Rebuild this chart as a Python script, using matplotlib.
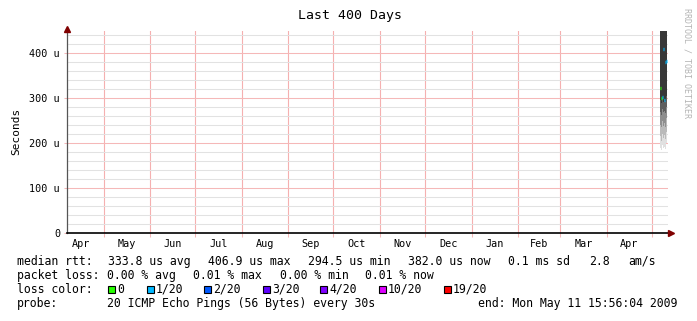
import datetime as dt

import matplotlib
matplotlib.use("Agg")
import matplotlib.dates as mdates
from matplotlib import pyplot as plt
from matplotlib.patches import Rectangle

W, H = 697, 321
MONO = "DejaVu Sans Mono"

# ---- data ----
end_time = dt.datetime(2009, 5, 11, 15, 56, 4)
span_days = 400

# sample times of the few days that hold data
sample_times = ["2009-05-06 06:00", "2009-05-06 22:00", "2009-05-07 14:00",
                "2009-05-08 06:00", "2009-05-08 22:00", "2009-05-09 14:00",
                "2009-05-10 06:00"]
sample_end = "2009-05-10 22:00"

# median rtt in microseconds
median_us = [322, 300, 302, 408, 296, 380, 382]
# lost pings out of 20
loss_count = [0, 0, 1, 1, 1, 1, 1]

# smoke: lower edge of each band (outer -> inner), microseconds
smoke_lo = [
    [190, 215, 240, 270, 295],
    [185, 205, 235, 262, 290],
    [195, 220, 250, 275, 300],
    [188, 212, 238, 268, 292],
    [192, 218, 245, 272, 298],
    [186, 210, 236, 266, 294],
    [200, 225, 255, 280, 305],
]
# upper edge of the smoke (max ping), microseconds
smoke_hi = [495, 470, 480, 520, 470, 485, 500]
smoke_shades = ["#e0e0e0", "#bababa", "#8e8e8e", "#5e5e5e", "#383838"]

loss_levels = [0, 1, 2, 3, 4, 10, 19]
loss_labels = ["0", "1/20", "2/20", "3/20", "4/20", "10/20", "19/20"]
loss_colors = ["#26ff00", "#00b8ff", "#0059ff", "#5e00ff", "#7e00ff", "#dd00ff", "#ff0000"]

y_ticks = [0, 100, 200, 300, 400]
y_tick_labels = ["0", "100 u", "200 u", "300 u", "400 u"]


def loss_color(n):
    col = loss_colors[0]
    for lvl, c in zip(loss_levels, loss_colors):
        if n >= lvl:
            col = c
    return col


def next_month(d):
    if d.month == 12:
        return dt.datetime(d.year + 1, 1, 1)
    return dt.datetime(d.year, d.month + 1, 1)


start_time = end_time - dt.timedelta(days=span_days)
x0, x1 = mdates.date2num(start_time), mdates.date2num(end_time)

fig = plt.figure(figsize=(W / 100, H / 100), dpi=100)
fig.patch.set_facecolor("white")
ax = fig.add_axes([67 / W, (H - 233) / H, 601 / W, 202.5 / H])
ax.set_facecolor("white")

t = [mdates.date2num(dt.datetime.fromisoformat(s)) for s in sample_times]
t_edges = t + [mdates.date2num(dt.datetime.fromisoformat(sample_end))]

# smoke, outer (light) bands first
for k, shade in enumerate(smoke_shades):
    lo = [row[k] for row in smoke_lo]
    ax.fill_between(t_edges, lo + [lo[-1]], smoke_hi + [smoke_hi[-1]],
                    step="post", color=shade, lw=0, zorder=3)

# median markers coloured by loss
for i, med in enumerate(median_us):
    ax.hlines(med, t_edges[i], t_edges[i + 1], color=loss_color(loss_count[i]),
              lw=2.4, zorder=4)

# grid
ax.set_yticks(y_ticks)
ax.set_yticklabels(y_tick_labels)
ax.set_yticks(range(0, 450, 20), minor=True)
ax.yaxis.grid(True, which="minor", color="#e2e2e2", lw=0.75)
ax.yaxis.grid(True, which="major", color="#f5b8b8", lw=0.75)

# month lines at month starts, labels at mid month
m = dt.datetime(start_time.year, start_time.month, 1)
month_lines, month_mids, month_names = [], [], []
while m <= end_time:
    nxt = next_month(m)
    a, b = mdates.date2num(m), mdates.date2num(nxt)
    if a >= x0:
        month_lines.append(a)
    mid = (a + b) / 2
    if x0 <= mid <= x1:
        month_mids.append(mid)
        month_names.append(m.strftime("%b"))
    m = nxt

ax.set_xticks(month_lines)
ax.set_xticklabels([])
ax.set_xticks(month_mids, minor=True)
ax.set_xticklabels(month_names, minor=True)
ax.xaxis.remove_overlapping_locs = False
ax.xaxis.grid(True, which="major", color="#f5b0b0", lw=0.8)
ax.set_axisbelow(True)

ax.set_xlim(x0, x1)
ax.set_ylim(0, 450)

for axis in (ax.xaxis, ax.yaxis):
    for tk in axis.get_major_ticks() + axis.get_minor_ticks():
        tk.gridline.set_snap(True)

ax.tick_params(axis="x", which="major", length=3, color="#f5b8b8", width=0.75)
ax.tick_params(axis="x", which="minor", length=0, pad=4, labelsize=7.3)
ax.tick_params(axis="y", which="major", length=2.5, color="#f5b8b8", width=0.75,
               pad=2.5, labelsize=7.3)
ax.tick_params(axis="y", which="minor", length=0)
for lbl in ax.get_xticklabels(minor=True) + ax.get_yticklabels():
    lbl.set_family(MONO)

for side in ["top", "right"]:
    ax.spines[side].set_visible(False)
ax.spines["left"].set_color("#555555")
ax.spines["left"].set_linewidth(0.9)
ax.spines["bottom"].set_color("black")
ax.spines["bottom"].set_linewidth(1.2)
ax.spines["bottom"].set_zorder(5)

# axis arrows
ax.plot([0], [1.006], transform=ax.transAxes, marker="^", ms=4, color="#800000",
        clip_on=False, zorder=6)
ax.plot([1.005], [0], transform=ax.transAxes, marker=">", ms=4, color="#800000",
        clip_on=False, zorder=6)

ax.set_ylabel("Seconds", family=MONO, fontsize=8, labelpad=6)
fig.text(350 / W, 1 - 16 / H, "Last 400 Days", ha="center", va="center",
         family=MONO, fontsize=9.5)
fig.text(686.5 / W, 1 - 63 / H, "RRDTOOL / TOBI OETIKER", rotation=270,
         ha="center", va="center", family=MONO, fontsize=6, color="#b4b4b4")


# legend rows
def txt(x, y, s):
    fig.text(x / W, 1 - y / H, s, ha="left", va="center", family=MONO, fontsize=8.3)


row1 = [(17, "median rtt:"), (108, "333.8 us avg"), (208, "406.9 us max"),
        (308, "294.5 us min"), (408, "382.0 us now"), (508, "0.1 ms sd"),
        (589, "2.8"), (628, "am/s")]
row2 = [(17, "packet loss:"), (107, "0.00 % avg"), (193.5, "0.01 % max"),
        (279.5, "0.00 % min"), (365, "0.01 % now")]
box_x = [108, 147, 204, 263, 320, 379, 443.5]
row4 = [(17, "probe:"), (107, "20 ICMP Echo Pings (56 Bytes) every 30s"),
        (478, "end: Mon May 11 15:56:04 2009")]

for x, s in row1:
    txt(x, 261.5, s)
for x, s in row2:
    txt(x, 275.5, s)
txt(17, 289.5, "loss color:")
for x, lab, col in zip(box_x, loss_labels, loss_colors):
    fig.add_artist(Rectangle((x / W, 1 - 292.5 / H), 7 / W, 7 / H,
                             transform=fig.transFigure, facecolor=col,
                             edgecolor="black", lw=0.8))
    txt(x + 9, 289.5, lab)
for x, s in row4:
    txt(x, 303.5, s)

fig.savefig("out.png", dpi=100, facecolor="white")
